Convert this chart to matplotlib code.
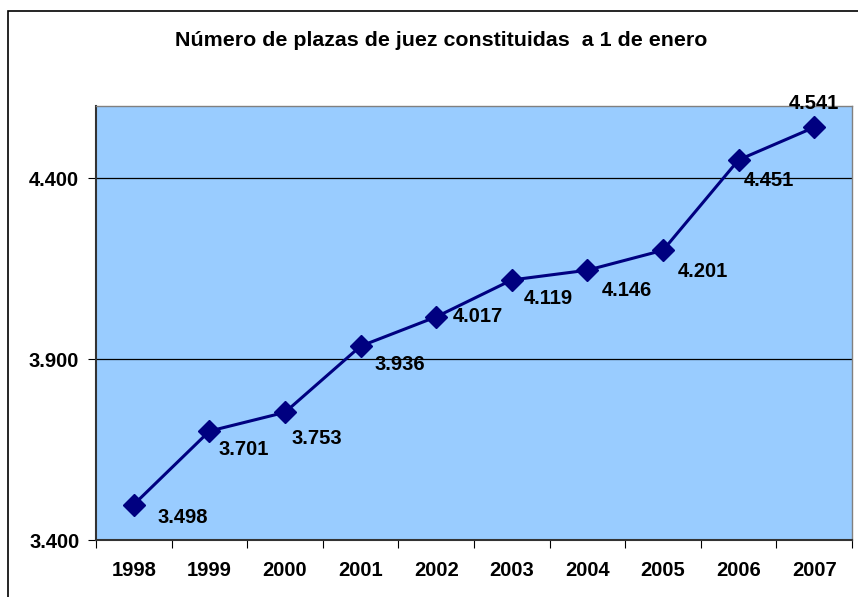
import matplotlib.pyplot as plt
from matplotlib.patches import Rectangle

plt.rcParams['font.family'] = ['Liberation Sans', 'DejaVu Sans']

years = ["1998", "1999", "2000", "2001", "2002", "2003", "2004", "2005", "2006", "2007"]
plazas = [3498, 3701, 3753, 3936, 4017, 4119, 4146, 4201, 4451, 4541]
yticks = [3400, 3900, 4400]

# label offsets from each point, in pixels (dx to left edge, dy down to centre)
lab_dx = [24, 9, 7, 14, 17, 12, 14, 15, 5, 0]
lab_dy = [13, 18, 26, 18, 0, 19, 20, 21, 21, -24]


def fmt(v):
    return f"{v:,}".replace(",", ".")


fig = plt.figure(figsize=(8.58, 5.97), dpi=100)
fig.patch.set_facecolor('white')

# outer chart border (runs off the right/bottom edges)
fig.patches.append(Rectangle((8 / 858, -0.05), 1.2, (597 - 11) / 597 + 0.05,
                             transform=fig.transFigure, fill=False,
                             edgecolor='black', linewidth=1.2))

ax = fig.add_axes([96 / 858, 57 / 597, 756 / 858, 434 / 597])
ax.set_facecolor('#99CCFF')

x = list(range(len(years)))
ax.plot(x, plazas, color='#000080', linewidth=2.2, marker='D',
        markersize=11, markerfacecolor='#000080', markeredgecolor='#000080', zorder=3)

px = 0.72  # points per pixel at 100 dpi
for i, v in enumerate(plazas):
    ha = 'center' if i == len(plazas) - 1 else 'left'
    ax.annotate(fmt(v), (i, v), xytext=(lab_dx[i] * px, -lab_dy[i] * px),
                textcoords='offset points', ha=ha, va='center',
                fontsize=14.5, fontweight='bold', zorder=4)

ax.set_xlim(-0.5, len(years) - 0.5)
ax.set_ylim(3400, 4600)
ax.set_yticks(yticks)
ax.set_yticklabels([fmt(t) for t in yticks], fontsize=14.5, fontweight='bold')
ax.yaxis.grid(True, color='black', linewidth=0.9)
ax.set_axisbelow(True)

ax.set_xticks([i - 0.5 for i in range(len(years) + 1)], minor=False)
ax.set_xticklabels([])
ax.set_xticks(x, minor=True)
ax.set_xticklabels(years, minor=True, fontsize=14.5, fontweight='bold')
ax.tick_params(axis='x', which='minor', length=0, pad=15)
ax.tick_params(axis='x', which='major', length=6, direction='out', color='black')
ax.tick_params(axis='y', length=6, direction='out', color='black', pad=6)

for s in ['top', 'right']:
    ax.spines[s].set_color('#808080')
    ax.spines[s].set_linewidth(1)
for s in ['left', 'bottom']:
    ax.spines[s].set_color('#333333')
    ax.spines[s].set_linewidth(1.5)

fig.text(441 / 858, 1 - 41 / 597, "Número de plazas de juez constituidas  a 1 de enero",
         ha='center', va='center', fontsize=15.4, fontweight='bold')

fig.savefig('out.png', dpi=100)
